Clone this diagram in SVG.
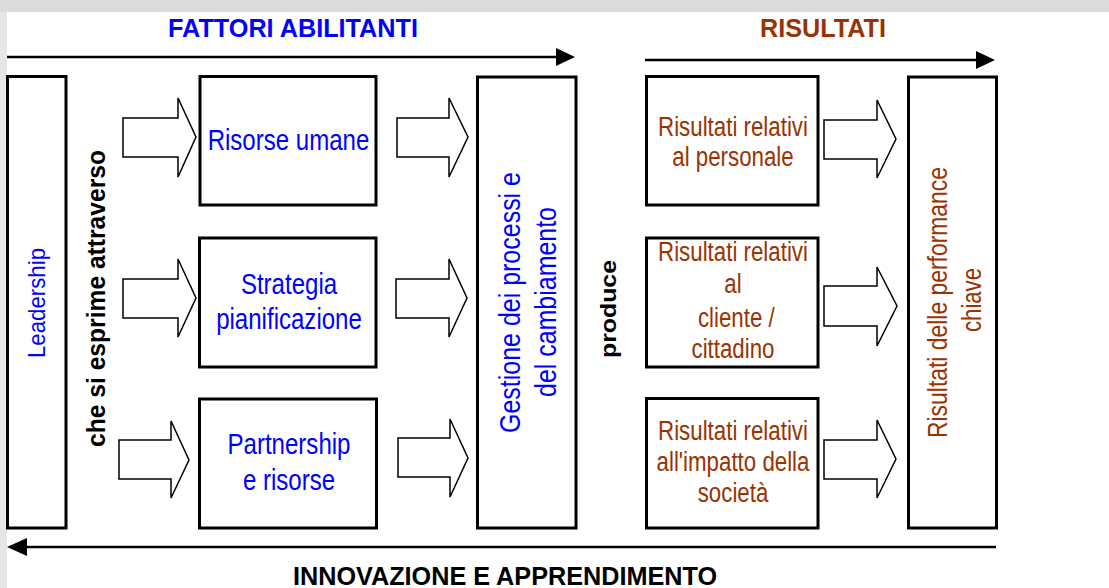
<svg xmlns="http://www.w3.org/2000/svg" width="1109" height="588" viewBox="0 0 1109 588">
<style>
.box{fill:#fff;stroke:#000;stroke-width:3}
.blk{fill:#fff;stroke:#000;stroke-width:1.5;stroke-linejoin:miter}
.ln{stroke:#000;stroke-width:2.5;fill:none}
.hd{fill:#000}
.t{font-family:"Liberation Sans",Arial,sans-serif}
.blue{fill:#0000ff;font-size:29px}
.brown{fill:#993300;font-size:27px}
.bold{font-weight:bold}
.mid{text-anchor:middle}
</style>
<rect x="0" y="0" width="1109" height="588" fill="#fff"/>
<rect x="0" y="0" width="1109" height="12" fill="#dcdcdc"/>
<rect x="0" y="12" width="7" height="576" fill="#e6e6e6"/>

<g id="titles">
<text class="t bold mid" x="293" y="37" font-size="25" fill="#0000ff" textLength="250" lengthAdjust="spacingAndGlyphs">FATTORI ABILITANTI</text>
<text class="t bold mid" x="823" y="37" font-size="25" fill="#993300" textLength="126" lengthAdjust="spacingAndGlyphs">RISULTATI</text>
<text class="t bold mid" x="505" y="585" font-size="25" fill="#000" textLength="424" lengthAdjust="spacingAndGlyphs">INNOVAZIONE E APPRENDIMENTO</text>
</g>

<g id="connectors">
<line class="ln" x1="7" y1="57" x2="558" y2="57"/>
<polygon class="hd" points="556,48 575,57 556,66"/>
<line class="ln" x1="645" y1="60" x2="978" y2="60"/>
<polygon class="hd" points="976,51 995,60 976,69"/>
<line class="ln" x1="25" y1="547" x2="996" y2="547"/>
<polygon class="hd" points="7,547 27,538 27,556"/>
<polygon class="blk" points="123,118 178,118 178,98 196,137 178,177 178,157 123,157"/>
<polygon class="blk" points="123,279 178,279 178,259 196,298 178,337 178,318 123,318"/>
<polygon class="blk" points="119,440 171,440 171,421 189,460 171,498 171,479 119,479"/>
<polygon class="blk" points="397,118 449,118 449,98 468,137 449,177 449,157 397,157"/>
<polygon class="blk" points="396,279 449,279 449,259 467,298 449,337 449,318 396,318"/>
<polygon class="blk" points="398,438 450,438 450,419 468,458 450,497 450,477 398,477"/>
<polygon class="blk" points="824,120 877,120 877,100 896,139 877,178 877,159 824,159"/>
<polygon class="blk" points="824,286 877,286 877,267 897,306 877,346 877,326 824,326"/>
<polygon class="blk" points="824,440 877,440 877,420 896,459 877,498 877,479 824,479"/>
<text class="t bold mid" transform="translate(104.5,298.5) rotate(-90)" font-size="25" textLength="297" lengthAdjust="spacingAndGlyphs" fill="#000">che si esprime attraverso</text>
<text class="t bold mid" transform="translate(616,309) rotate(-90)" font-size="22" textLength="98" lengthAdjust="spacingAndGlyphs" fill="#000">produce</text>
</g>

<g id="leadership">
<rect class="box" x="7.5" y="76.5" width="58.5" height="451.5"/>
<text class="t mid" transform="translate(45,303) rotate(-90)" font-size="24" fill="#0000ff" textLength="110" lengthAdjust="spacingAndGlyphs">Leadership</text>
</g>

<g id="risorse-umane">
<rect class="box" x="200" y="76.5" width="176" height="128.5"/>
<g transform="translate(288.5,0) scale(0.83,1)">
<text class="t blue mid" x="0" y="150">Risorse umane</text>
</g>
</g>

<g id="strategia">
<rect class="box" x="199.5" y="238" width="176.5" height="129"/>
<g transform="translate(289,0) scale(0.83,1)">
<text class="t blue mid" x="0" y="294">Strategia</text>
<text class="t blue mid" x="0" y="329">pianificazione</text>
</g>
</g>

<g id="partnership">
<rect class="box" x="199.5" y="399" width="177" height="129"/>
<g transform="translate(289,0) scale(0.83,1)">
<text class="t blue mid" x="0" y="454">Partnership</text>
<text class="t blue mid" x="0" y="490">e risorse</text>
</g>
</g>

<g id="gestione">
<rect class="box" x="477.5" y="77" width="98.5" height="451"/>
<text class="t mid" transform="translate(520,302.5) rotate(-90)" font-size="29" fill="#0000ff" textLength="261" lengthAdjust="spacingAndGlyphs">Gestione dei processi e</text>
<text class="t mid" transform="translate(556,302) rotate(-90)" font-size="29" fill="#0000ff" textLength="190" lengthAdjust="spacingAndGlyphs">del cambiamento</text>
</g>

<g id="ris-personale">
<rect class="box" x="646.5" y="76.5" width="171.5" height="128.5"/>
<g transform="translate(733,0) scale(0.826,1)">
<text class="t brown mid" x="0" y="136">Risultati relativi</text>
<text class="t brown mid" x="0" y="166">al personale</text>
</g>
</g>

<g id="ris-cliente">
<rect class="box" x="646.5" y="238" width="171.5" height="129"/>
<g transform="translate(733,0) scale(0.826,1)">
<text class="t brown mid" x="0" y="261">Risultati relativi</text>
<text class="t brown mid" x="0" y="293">al</text>
<text class="t brown mid" x="4" y="327">cliente /</text>
<text class="t brown mid" x="0" y="358">cittadino</text>
</g>
</g>

<g id="ris-societa">
<rect class="box" x="646.5" y="398.5" width="171.5" height="129.5"/>
<g transform="translate(733,0) scale(0.826,1)">
<text class="t brown mid" x="0" y="440">Risultati relativi</text>
<text class="t brown mid" x="0" y="471">all'impatto della</text>
<text class="t brown mid" x="0" y="502">società</text>
</g>
</g>

<g id="performance">
<rect class="box" x="908.5" y="77" width="88" height="451"/>
<text class="t mid" transform="translate(947,302.5) rotate(-90)" font-size="27" fill="#993300" textLength="271" lengthAdjust="spacingAndGlyphs">Risultati delle performance</text>
<text class="t mid" transform="translate(981,300) rotate(-90)" font-size="27" fill="#993300" textLength="64" lengthAdjust="spacingAndGlyphs">chiave</text>
</g>
</svg>
